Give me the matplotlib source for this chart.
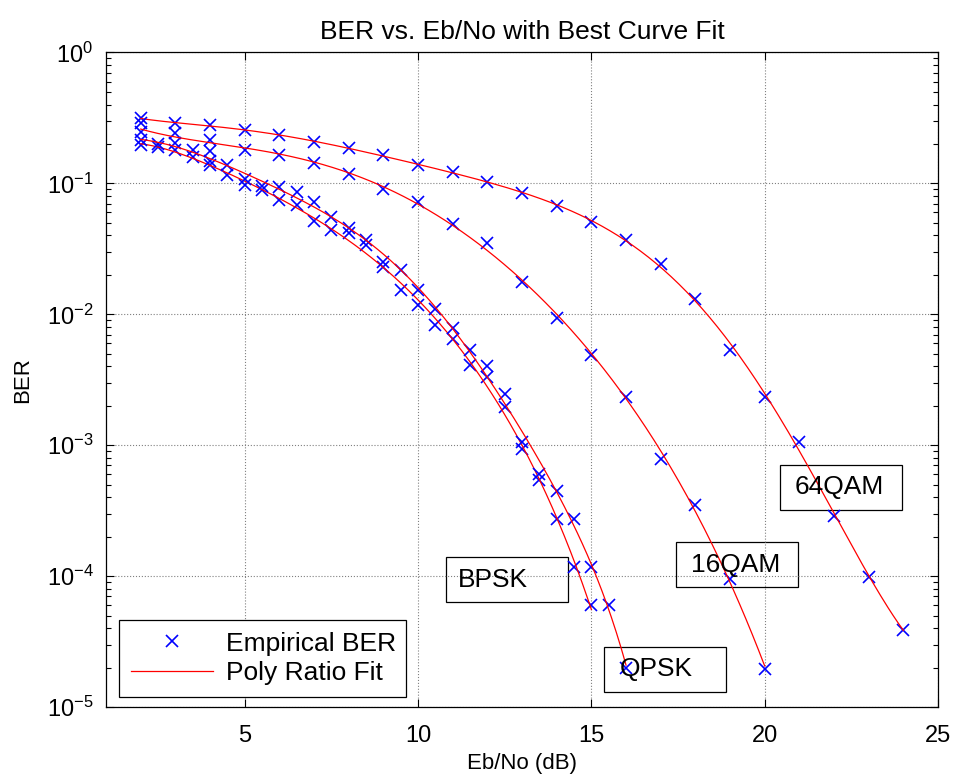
import numpy as np
import matplotlib
matplotlib.use('Agg')
import matplotlib.pyplot as plt
from matplotlib.patches import Rectangle
from matplotlib.ticker import LogLocator, NullFormatter
from numpy.polynomial import Polynomial

plt.rcParams['font.family'] = ['Liberation Sans', 'DejaVu Sans']

# Empirical BER
bpsk_x = [2, 2.5, 3, 3.5, 4, 4.5, 5, 5.5, 6, 6.5, 7, 7.5, 8, 8.5, 9, 9.5, 10,
          10.5, 11, 11.5, 12, 12.5, 13, 13.5, 14, 14.5, 15]
bpsk_ber = [0.196, 0.19, 0.181, 0.16, 0.139, 0.116, 0.097, 0.089, 0.075, 0.068,
            0.052, 0.044, 0.042, 0.0337, 0.023, 0.0153, 0.0117, 0.0083, 0.0065,
            0.0041, 0.0033, 0.00196, 0.00094, 5.4e-4, 2.75e-4, 1.17e-4, 6e-5]

qpsk_x = [2, 2.5, 3, 3.5, 4, 4.5, 5, 5.5, 6, 6.5, 7, 7.5, 8, 8.5, 9, 9.5, 10,
          10.5, 11, 11.5, 12, 12.5, 13, 13.5, 14, 14.5, 15, 15.5, 16]
qpsk_ber = [0.215, 0.2, 0.204, 0.18, 0.148, 0.138, 0.108, 0.096, 0.094, 0.086,
            0.072, 0.0556, 0.046, 0.0369, 0.025, 0.0217, 0.0153, 0.011, 0.0078,
            0.0053, 0.004, 0.00248, 0.00106, 6.0e-4, 4.5e-4, 2.75e-4, 1.17e-4,
            6e-5, 2e-5]

extra_x = [2, 4]
extra_ber = [0.288, 0.176]

qam16_x = list(range(2, 21))
qam16_ber = [0.248, 0.241, 0.215, 0.18, 0.164, 0.142, 0.117, 0.091, 0.072, 0.049,
             0.035, 0.0177, 0.0093, 0.0049, 0.00233, 7.9e-4, 3.5e-4, 9.5e-5, 1.95e-5]

qam64_x = list(range(2, 25))
qam64_ber = [0.314, 0.288, 0.279, 0.255, 0.234, 0.208, 0.185, 0.164, 0.138, 0.123,
             0.103, 0.084, 0.067, 0.051, 0.037, 0.0244, 0.0132, 0.0053, 0.00233,
             0.00106, 2.9e-4, 9.8e-5, 3.9e-5]

labels = ['BPSK', 'QPSK', '16QAM', '64QAM']
series = [(bpsk_x, bpsk_ber), (qpsk_x, qpsk_ber), (qam16_x, qam16_ber), (qam64_x, qam64_ber)]


def best_fit(x, ber, xf):
    # highest-degree polynomial in log10(BER) that still decreases monotonically
    y = np.log10(ber)
    best = Polynomial.fit(x, y, 3)
    for deg in range(4, 8):
        p = Polynomial.fit(x, y, deg)
        if np.all(np.diff(p(xf)) <= 1e-4):
            best = p
    return 10 ** best(xf)


fig = plt.figure(figsize=(9.57, 7.81), dpi=100)
ax = fig.add_axes([0.1108, 0.0947, 0.8694, 0.8381])

first = True
for x, ber in series:
    x = np.array(x, dtype=float)
    ber = np.array(ber)
    xf = np.linspace(x.min(), x.max(), 300)
    yf = best_fit(x, ber, xf)
    ax.semilogy(x, ber, 'x', color='#0000ff', ms=8, mew=1.2,
                label='Empirical BER' if first else None)
    ax.semilogy(xf, yf, '-', color='#ff0000', lw=0.9,
                label='Poly Ratio Fit' if first else None)
    first = False
ax.semilogy(extra_x, extra_ber, 'x', color='#0000ff', ms=8, mew=1.2)

ax.set_xlim(1, 25)
ax.set_ylim(1e-5, 1)
ax.set_xticks([5, 10, 15, 20, 25])
ax.yaxis.set_major_locator(LogLocator(base=10, numticks=10))
ax.yaxis.set_minor_locator(LogLocator(base=10, subs=np.arange(2, 10), numticks=10))
ax.yaxis.set_minor_formatter(NullFormatter())
ax.tick_params(which='both', direction='in', top=True, right=True, labelsize=17)
ax.tick_params(which='major', length=6, width=0.8)
ax.tick_params(which='minor', length=3.5, width=0.8)
ax.tick_params(axis='x', pad=13)
ax.tick_params(axis='y', pad=9)
ax.grid(True, which='major', color='#808080', linestyle=':', linewidth=0.8)
for s in ax.spines.values():
    s.set_linewidth(0.9)

ax.set_title('BER vs. Eb/No with Best Curve Fit', fontsize=19, pad=10)
ax.set_xlabel('Eb/No (dB)', fontsize=16, labelpad=4)
ax.set_ylabel('BER', fontsize=16, labelpad=10)

# labelled text boxes (axes fraction)
boxes = [(0.4087, 0.1604, 0.4231, 0.1948),
         (0.5986, 0.0234, 0.6178, 0.0578),
         (0.6851, 0.1829, 0.7031, 0.2170),
         (0.8104, 0.3010, 0.8281, 0.3358)]
for lab, (bx, by, tx, ty) in zip(labels, boxes):
    ax.add_patch(Rectangle((bx, by), 0.146, 0.069, transform=ax.transAxes,
                           facecolor='white', edgecolor='black', lw=0.9, zorder=1.5))
    ax.text(tx, ty, lab, transform=ax.transAxes, fontsize=19, va='center', ha='left', zorder=3)

leg = ax.legend(loc='lower left', bbox_to_anchor=(0.016, 0.0157, 0.3446, 0.1198),
                mode='expand', borderaxespad=0, fancybox=False, framealpha=1,
                edgecolor='black', fontsize=19, handlelength=3.1, handletextpad=0.5,
                labelspacing=0.2, borderpad=0.45)
leg.get_frame().set_linewidth(0.9)

fig.savefig('out.png', dpi=100)
